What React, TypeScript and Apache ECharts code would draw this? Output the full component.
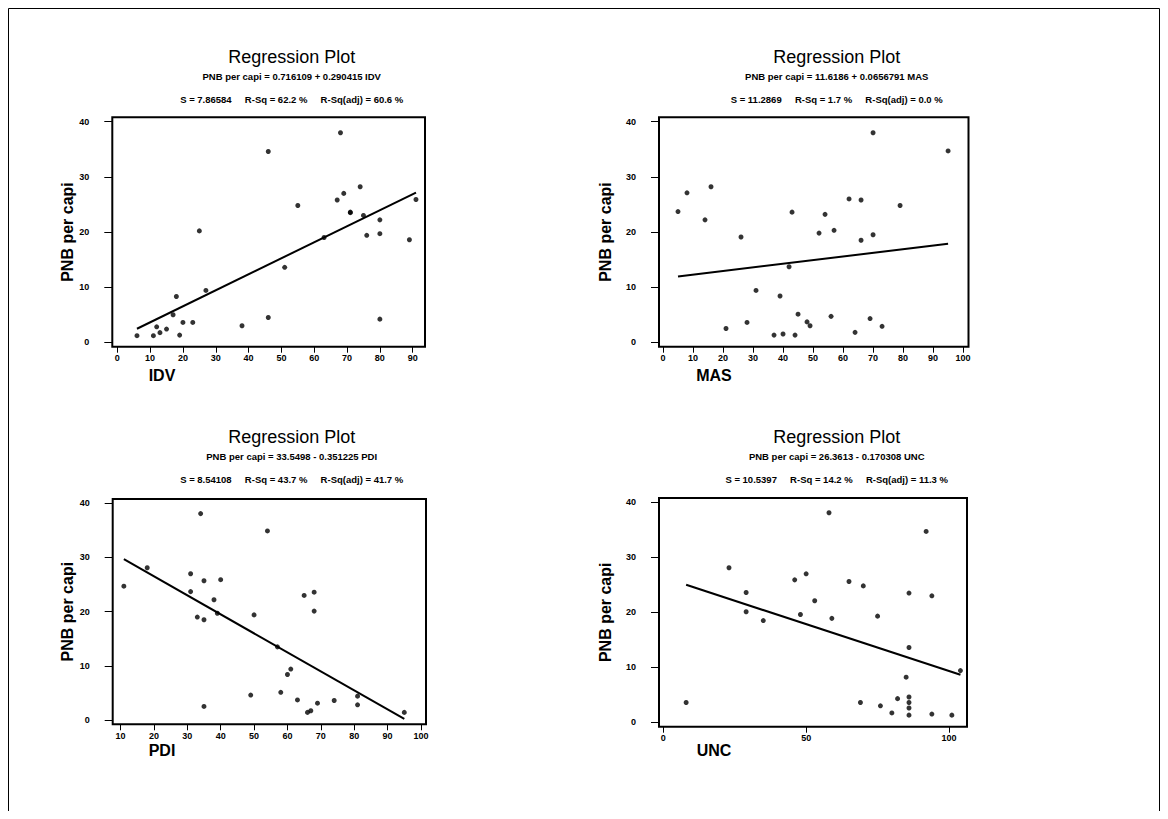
import React, { useEffect, useRef } from "react";
import * as echarts from "echarts";

// ---------- data ----------
const yAxisName = "PNB per capi";
const plotTitle = "Regression Plot";

const idvX = [6, 11, 12, 13, 15, 17, 18, 19, 20, 23, 25, 27, 38, 46, 46, 51, 55, 63, 67, 68, 69, 71, 71, 74, 75, 76, 80, 80, 80, 89, 91];
const idvY = [1.2, 1.2, 2.8, 1.75, 2.4, 5.0, 8.3, 1.3, 3.6, 3.6, 20.2, 9.4, 3.0, 4.5, 34.6, 13.6, 24.8, 19.0, 25.8, 38.0, 27.0, 23.6, 23.5, 28.2, 23.0, 19.4, 22.2, 19.7, 4.2, 18.6, 25.9];

const masX = [5, 8, 14, 16, 21, 26, 28, 31, 37, 39, 40, 42, 43, 44, 45, 48, 49, 52, 54, 56, 57, 62, 64, 66, 66, 69, 70, 70, 73, 79, 95];
const masY = [23.7, 27.1, 22.2, 28.2, 2.5, 19.1, 3.6, 9.4, 1.3, 8.4, 1.5, 13.7, 23.6, 1.3, 5.1, 3.7, 3.0, 19.8, 23.2, 4.7, 20.3, 26.0, 1.8, 25.8, 18.5, 4.3, 38.0, 19.5, 2.9, 24.8, 34.7];

const pdiX = [11, 18, 31, 31, 33, 34, 35, 35, 35, 38, 39, 40, 49, 50, 54, 57, 58, 60, 61, 63, 65, 66, 67, 68, 68, 69, 74, 81, 81, 95];
const pdiY = [24.7, 28.1, 27.0, 23.7, 19.0, 38.1, 25.7, 18.5, 2.5, 22.2, 19.7, 25.9, 4.6, 19.4, 34.9, 13.5, 5.1, 8.4, 9.4, 3.7, 23.0, 1.4, 1.7, 23.6, 20.1, 3.1, 3.6, 4.4, 2.8, 1.4];

const uncX = [8, 23, 29, 29, 35, 46, 48, 50, 53, 58, 59, 65, 69, 70, 75, 76, 80, 82, 85, 86, 86, 86, 86, 86, 86, 92, 94, 94, 101, 104];
const uncY = [3.6, 28.1, 23.6, 20.1, 18.5, 25.9, 19.6, 27.0, 22.1, 38.1, 18.9, 25.6, 3.6, 24.8, 19.3, 3.0, 1.7, 4.3, 8.2, 23.5, 13.6, 4.6, 3.6, 2.6, 1.3, 34.7, 23.0, 1.5, 1.3, 9.4];

const intercepts = [0.716109, 11.6186, 33.5498, 26.3613];
const slopes = [0.290415, 0.0656791, -0.351225, -0.170308];

const xAxisNames = ["IDV", "MAS", "PDI", "UNC"];
const equations = [
  "PNB per capi = 0.716109 + 0.290415 IDV",
  "PNB per capi = 11.6186 + 0.0656791 MAS",
  "PNB per capi = 33.5498 - 0.351225 PDI",
  "PNB per capi = 26.3613 - 0.170308 UNC",
];
const statS = ["S = 7.86584", "S = 11.2869", "S = 8.54108", "S = 10.5397"];
const statRSq = ["R-Sq = 62.2 %", "R-Sq = 1.7 %", "R-Sq = 43.7 %", "R-Sq = 14.2 %"];
const statRSqAdj = ["R-Sq(adj) = 60.6 %", "R-Sq(adj) = 0.0 %", "R-Sq(adj) = 41.7 %", "R-Sq(adj) = 11.3 %"];

const xTicksIDV = [0, 10, 20, 30, 40, 50, 60, 70, 80, 90];
const xTicksMAS = [0, 10, 20, 30, 40, 50, 60, 70, 80, 90, 100];
const xTicksPDI = [10, 20, 30, 40, 50, 60, 70, 80, 90, 100];
const xTicksUNC = [0, 50, 100];
const yTicks = [0, 10, 20, 30, 40];

// ---------- layout ----------
const FONT = '"Liberation Sans", Arial, Helvetica, sans-serif';

const xsList = [idvX, masX, pdiX, uncX];
const ysList = [idvY, masY, pdiY, uncY];
const xTicksList = [xTicksIDV, xTicksMAS, xTicksPDI, xTicksUNC];

const layouts = [
  { left: 104.3, top: 109.3, width: 312.7, height: 229.4, xMin: -1.52, xMax: 93.75, cx: 283.7, ty: 48.7, nameGap: 36, xnX: 154, xnY: 367 },
  { left: 651, top: 109.3, width: 309.5, height: 229.4, xMin: -1.33, xMax: 101.8, cx: 828.7, ty: 48.7, nameGap: 46, xnX: 706, xnY: 367 },
  { left: 104.7, top: 491, width: 313.3, height: 225.3, xMin: 7.66, xMax: 101.5, cx: 283.7, ty: 428.7, nameGap: 36, xnX: 154, xnY: 742 },
  { left: 651, top: 489.9, width: 308, height: 228.8, xMin: -1.5, xMax: 106.3, cx: 828.7, ty: 428.7, nameGap: 46, xnX: 706, xnY: 742 },
];

const GAP = "\u00A0\u00A0\u00A0\u00A0\u00A0";

function buildOption() {
  const grid: any[] = [];
  const xAxis: any[] = [];
  const yAxis: any[] = [];
  const series: any[] = [];
  const graphic: any[] = [];

  layouts.forEach((L, i) => {
    grid.push({
      left: L.left,
      top: L.top,
      width: L.width,
      height: L.height,
      show: true,
      borderColor: "#000",
      borderWidth: 2,
      backgroundColor: "transparent",
      outerBoundsMode: "none",
    });
    xAxis.push({
      type: "value",
      gridIndex: i,
      min: L.xMin,
      max: L.xMax,
      axisLine: { show: false, onZero: false },
      axisTick: { show: true, inside: false, length: 6, customValues: xTicksList[i], lineStyle: { color: "#000", width: 1 } },
      axisLabel: { customValues: xTicksList[i], fontSize: 9, fontWeight: "bold", color: "#000", margin: 7, fontFamily: FONT },
      splitLine: { show: false },
    });
    yAxis.push({
      type: "value",
      gridIndex: i,
      min: -0.8,
      max: 40.8,
      name: yAxisName,
      nameLocation: "middle",
      nameGap: L.nameGap,
      nameTextStyle: { fontSize: 16, fontWeight: "bold", color: "#000", fontFamily: FONT },
      axisLine: { show: false, onZero: false },
      axisTick: { show: true, inside: false, length: 8, customValues: yTicks, lineStyle: { color: "#000", width: 1 } },
      axisLabel: { customValues: yTicks, fontSize: 9, fontWeight: "bold", color: "#000", margin: 23, fontFamily: FONT },
      splitLine: { show: false },
    });

    const xs = xsList[i];
    const ys = ysList[i];
    series.push({
      type: "scatter",
      xAxisIndex: i,
      yAxisIndex: i,
      symbol: "circle",
      symbolSize: 5,
      itemStyle: { color: "#000" },
      data: xs.map((x, k) => [x, ys[k]]),
    });
    const x0 = Math.min(...xs);
    const x1 = Math.max(...xs);
    series.push({
      type: "line",
      xAxisIndex: i,
      yAxisIndex: i,
      symbol: "none",
      lineStyle: { color: "#000", width: 2 },
      data: [
        [x0, intercepts[i] + slopes[i] * x0],
        [x1, intercepts[i] + slopes[i] * x1],
      ],
    });

    graphic.push(
      {
        type: "text",
        x: L.cx,
        y: L.ty,
        style: { text: plotTitle, fontSize: 18, fontFamily: FONT, fill: "#000", align: "center", verticalAlign: "middle" },
      },
      {
        type: "text",
        x: L.cx,
        y: L.ty + 20,
        style: { text: equations[i], fontSize: 9.5, fontWeight: "bold", fontFamily: FONT, fill: "#000", align: "center", verticalAlign: "middle" },
      },
      {
        type: "text",
        x: L.cx,
        y: L.ty + 42.6,
        style: {
          text: statS[i] + GAP + statRSq[i] + GAP + statRSqAdj[i],
          fontSize: 9.5,
          fontWeight: "bold",
          fontFamily: FONT,
          fill: "#000",
          align: "center",
          verticalAlign: "middle",
        },
      },
      {
        type: "text",
        x: L.xnX,
        y: L.xnY,
        style: { text: xAxisNames[i], fontSize: 16, fontWeight: "bold", fontFamily: FONT, fill: "#000", align: "center", verticalAlign: "middle" },
      }
    );
  });

  graphic.push({
    type: "rect",
    shape: { x: 0.5, y: 0.5, width: 1151, height: 820 },
    style: { fill: "none", stroke: "#000", lineWidth: 1 },
    silent: true,
  });

  return {
    animation: false,
    backgroundColor: "#fff",
    grid,
    xAxis,
    yAxis,
    series,
    graphic,
  };
}

export default function App() {
  const ref = useRef<HTMLDivElement>(null);
  useEffect(() => {
    if (!ref.current) return;
    const chart = echarts.init(ref.current, undefined, { renderer: "svg" });
    chart.setOption(buildOption() as any);
    return () => chart.dispose();
  }, []);
  return <div ref={ref} style={{ width: 1152, height: 803 }} />;
}
